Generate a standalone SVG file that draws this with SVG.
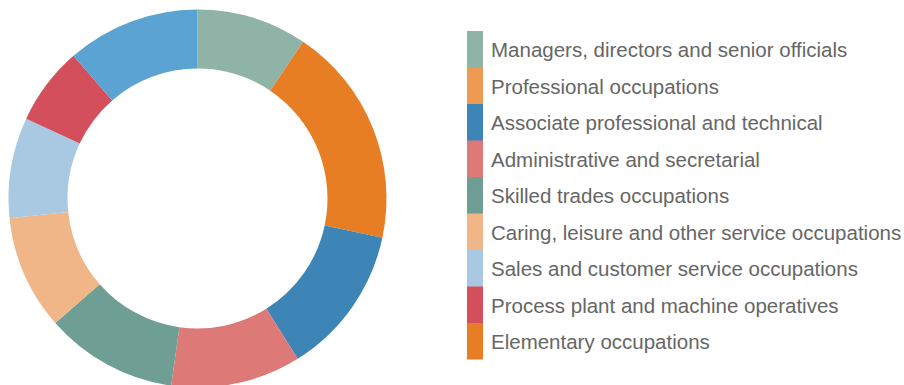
<svg xmlns="http://www.w3.org/2000/svg" width="904" height="385" viewBox="0 0 904 385">
<style>
.lbl{font-family:"Liberation Sans",Arial,sans-serif;font-size:20.5px;fill:#666666}
</style>
<rect width="904" height="385" fill="#ffffff"/>
<g id="donut">
<path id="s-managers" d="M197.5,9.5 A189,189 0 0 1 303.19,41.82 L270.20,90.73 A130,130 0 0 0 197.5,68.5 Z" fill="#8fb3a7"/>
<path id="s-professional" d="M303.19,41.82 A189,189 0 0 1 382.37,237.79 L324.66,225.53 A130,130 0 0 0 270.20,90.73 Z" fill="#e87e24"/>
<path id="s-associate" d="M382.37,237.79 A189,189 0 0 1 297.65,358.77 L266.39,308.74 A130,130 0 0 0 324.66,225.53 Z" fill="#3c85b6"/>
<path id="s-admin" d="M297.65,358.77 A189,189 0 0 1 171.19,385.67 L179.40,327.24 A130,130 0 0 0 266.39,308.74 Z" fill="#dd7977"/>
<path id="s-skilled" d="M171.19,385.67 A189,189 0 0 1 55.30,322.99 L99.69,284.13 A130,130 0 0 0 179.40,327.24 Z" fill="#6f9f94"/>
<path id="s-caring" d="M55.30,322.99 A189,189 0 0 1 9.54,218.25 L68.21,212.09 A130,130 0 0 0 99.69,284.13 Z" fill="#f0b688"/>
<path id="s-sales" d="M9.54,218.25 A189,189 0 0 1 26.21,118.63 L79.68,143.56 A130,130 0 0 0 68.21,212.09 Z" fill="#a9c9e3"/>
<path id="s-process" d="M26.21,118.63 A189,189 0 0 1 73.50,55.86 L112.21,100.39 A130,130 0 0 0 79.68,143.56 Z" fill="#d44f5c"/>
<path id="s-elementary" d="M73.50,55.86 A189,189 0 0 1 197.5,9.5 L197.5,68.5 A130,130 0 0 0 112.21,100.39 Z" fill="#5ba3d2"/>
</g>
<g id="legend">
<g id="l-managers"><rect x="467" y="31" width="16" height="37" fill="#8fb3a7"/><text class="lbl" x="491" y="57.3">Managers, directors and senior officials</text></g>
<g id="l-professional"><rect x="467" y="67.5" width="16" height="37" fill="#ef9a52"/><text class="lbl" x="491" y="93.8">Professional occupations</text></g>
<g id="l-associate"><rect x="467" y="104" width="16" height="37" fill="#3c85b6"/><text class="lbl" x="491" y="130.3">Associate professional and technical</text></g>
<g id="l-admin"><rect x="467" y="140.5" width="16" height="37" fill="#dd7977"/><text class="lbl" x="491" y="166.8">Administrative and secretarial</text></g>
<g id="l-skilled"><rect x="467" y="177" width="16" height="37" fill="#6f9f94"/><text class="lbl" x="491" y="203.3">Skilled trades occupations</text></g>
<g id="l-caring"><rect x="467" y="213.5" width="16" height="37" fill="#f0b688"/><text class="lbl" x="491" y="239.8">Caring, leisure and other service occupations</text></g>
<g id="l-sales"><rect x="467" y="250" width="16" height="37" fill="#a9c9e3"/><text class="lbl" x="491" y="276.3">Sales and customer service occupations</text></g>
<g id="l-process"><rect x="467" y="286.5" width="16" height="37" fill="#d44f5c"/><text class="lbl" x="491" y="312.8">Process plant and machine operatives</text></g>
<g id="l-elementary"><rect x="467" y="323" width="16" height="36.5" fill="#e87e24"/><text class="lbl" x="491" y="349.3">Elementary occupations</text></g>
</g>
</svg>
